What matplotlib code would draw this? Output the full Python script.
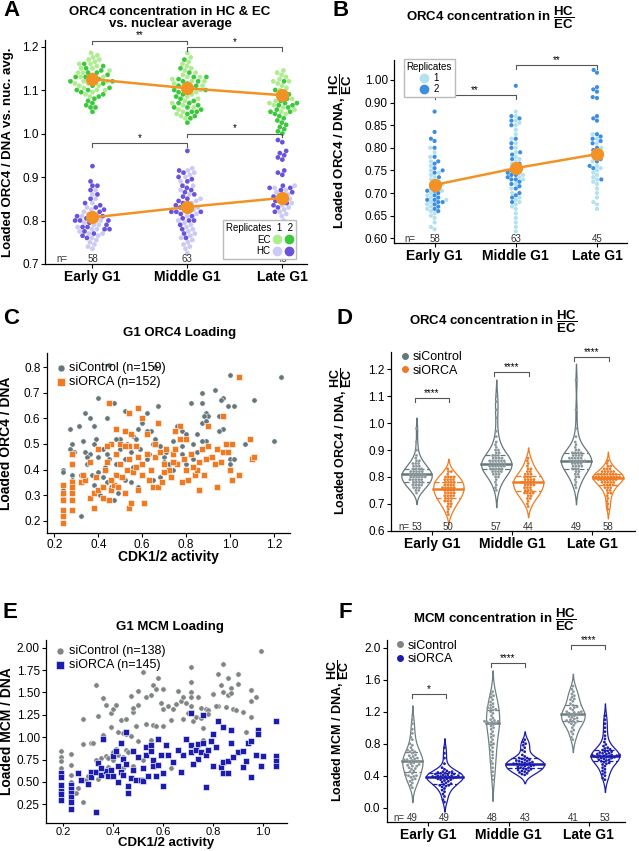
import warnings
import numpy as np
import pandas as pd
import matplotlib
matplotlib.use('Agg')
import matplotlib.pyplot as plt
from matplotlib.lines import Line2D
from matplotlib import mlab
import seaborn as sns

warnings.filterwarnings('ignore')

plt.rcParams['font.family'] = ['Liberation Sans', 'DejaVu Sans']
plt.rcParams['mathtext.fontset'] = 'custom'
plt.rcParams['mathtext.rm'] = 'Liberation Sans'
plt.rcParams['mathtext.bf'] = 'Liberation Sans:bold'
plt.rcParams['mathtext.it'] = 'Liberation Sans:italic'
plt.rcParams['axes.linewidth'] = 0.9

phases = ['Early G1', 'Middle G1', 'Late G1']

# ---- panel A: ORC4 in EC / HC vs nuclear average (replicate 1, replicate 2)
a_ec_r1 = [[1.185, 1.18, 1.175, 1.17, 1.17, 1.165, 1.16, 1.16, 1.155, 1.15, 1.15, 1.145, 1.14, 1.14, 1.135,
            1.13, 1.13, 1.125, 1.12, 1.12, 1.115, 1.115, 1.11, 1.11, 1.105, 1.10, 1.10, 1.095, 1.09, 1.085],
           [1.185, 1.175, 1.165, 1.16, 1.155, 1.15, 1.145, 1.14, 1.135, 1.13, 1.13, 1.125, 1.12, 1.12, 1.115,
            1.11, 1.105, 1.10, 1.10, 1.095, 1.09, 1.085, 1.08, 1.075, 1.07, 1.065, 1.06, 1.055, 1.05, 1.045,
            1.04, 1.035],
           [1.145, 1.14, 1.135, 1.13, 1.125, 1.12, 1.12, 1.115, 1.11, 1.105, 1.10, 1.095, 1.09, 1.085, 1.08,
            1.075, 1.07, 1.065, 1.06, 1.055, 1.05, 1.045]]
a_ec_r2 = [[1.16, 1.155, 1.15, 1.145, 1.14, 1.135, 1.13, 1.125, 1.12, 1.12, 1.115, 1.11, 1.105, 1.10, 1.10,
            1.095, 1.09, 1.085, 1.08, 1.075, 1.07, 1.065, 1.06, 1.06, 1.05, 1.13, 1.14, 1.12],
           [1.17, 1.15, 1.14, 1.13, 1.125, 1.12, 1.115, 1.11, 1.105, 1.10, 1.10, 1.095, 1.09, 1.085, 1.08,
            1.075, 1.07, 1.065, 1.06, 1.055, 1.05, 1.05, 1.045, 1.04, 1.035, 1.025, 1.12, 1.13, 1.06, 1.07, 1.11],
           [1.12, 1.10, 1.09, 1.08, 1.075, 1.07, 1.065, 1.06, 1.055, 1.05, 1.045, 1.04, 1.035, 1.03, 1.025,
            1.02, 1.015, 1.01, 1.005, 1.0, 1.065, 1.07, 1.05]]
a_hc_r1 = [[0.735, 0.74, 0.745, 0.75, 0.755, 0.76, 0.765, 0.77, 0.77, 0.775, 0.78, 0.78, 0.785, 0.79, 0.79,
            0.795, 0.80, 0.80, 0.805, 0.81, 0.81, 0.815, 0.82, 0.825, 0.83, 0.84, 0.85, 0.86, 0.87],
           [0.92, 0.915, 0.91, 0.905, 0.90, 0.89, 0.88, 0.87, 0.86, 0.85, 0.845, 0.84, 0.835, 0.83, 0.825,
            0.82, 0.815, 0.81, 0.80, 0.795, 0.79, 0.785, 0.78, 0.775, 0.77, 0.765, 0.76, 0.755, 0.75, 0.745,
            0.74, 0.735, 0.725],
           [0.88, 0.875, 0.87, 0.865, 0.86, 0.855, 0.85, 0.845, 0.84, 0.835, 0.83, 0.825, 0.82, 0.815, 0.81,
            0.80, 0.79, 0.785, 0.78, 0.775, 0.77, 0.765]]
a_hc_r2 = [[0.925, 0.89, 0.88, 0.88, 0.87, 0.86, 0.85, 0.84, 0.835, 0.83, 0.825, 0.82, 0.815, 0.81, 0.805,
            0.80, 0.80, 0.795, 0.79, 0.785, 0.785, 0.78, 0.78, 0.775, 0.77, 0.765, 0.76, 0.80, 0.81],
           [0.96, 0.915, 0.91, 0.90, 0.895, 0.89, 0.88, 0.875, 0.87, 0.865, 0.86, 0.855, 0.85, 0.845, 0.84,
            0.835, 0.83, 0.825, 0.82, 0.82, 0.82, 0.815, 0.81, 0.805, 0.80, 0.79, 0.78, 0.77, 0.76, 0.80],
           [0.985, 0.98, 0.96, 0.955, 0.95, 0.945, 0.94, 0.915, 0.91, 0.905, 0.88, 0.875, 0.875, 0.87, 0.865,
            0.86, 0.855, 0.85, 0.845, 0.84, 0.835, 0.83, 0.82]]
a_ec_mean = [1.125, 1.104, 1.088]
a_hc_mean = [0.807, 0.831, 0.852]
a_n = [58, 63, 45]

# ---- panel B: HC/EC ratio
b_r1 = [[0.62, 0.625, 0.635, 0.645, 0.65, 0.655, 0.66, 0.665, 0.67, 0.675, 0.68, 0.685, 0.69, 0.695, 0.70,
         0.705, 0.71, 0.715, 0.72, 0.72, 0.725, 0.73, 0.735, 0.74, 0.745, 0.75, 0.76, 0.77, 0.78, 0.79, 0.80],
        [0.88, 0.87, 0.86, 0.855, 0.85, 0.84, 0.83, 0.82, 0.81, 0.80, 0.79, 0.78, 0.775, 0.77, 0.765, 0.76,
         0.75, 0.745, 0.74, 0.735, 0.73, 0.72, 0.71, 0.70, 0.69, 0.685, 0.68, 0.675, 0.67, 0.665, 0.655, 0.645,
         0.635, 0.625, 0.615],
        [0.83, 0.82, 0.81, 0.80, 0.79, 0.78, 0.77, 0.76, 0.75, 0.74, 0.735, 0.73, 0.725, 0.72, 0.71, 0.70,
         0.69, 0.68, 0.675, 0.665, 0.745, 0.755]]
b_r2 = [[0.88, 0.835, 0.82, 0.815, 0.80, 0.78, 0.77, 0.765, 0.755, 0.75, 0.745, 0.735, 0.725, 0.715, 0.705,
         0.70, 0.695, 0.69, 0.685, 0.685, 0.68, 0.68, 0.675, 0.67, 0.665, 0.66, 0.705],
        [0.937, 0.87, 0.865, 0.86, 0.85, 0.82, 0.81, 0.80, 0.79, 0.785, 0.775, 0.765, 0.755, 0.75, 0.745,
         0.74, 0.735, 0.73, 0.725, 0.72, 0.715, 0.71, 0.70, 0.695, 0.69, 0.68, 0.73, 0.74],
        [0.972, 0.966, 0.934, 0.929, 0.924, 0.912, 0.91, 0.87, 0.865, 0.86, 0.83, 0.825, 0.82, 0.815, 0.80,
         0.795, 0.785, 0.775, 0.77, 0.76, 0.755, 0.73, 0.81]]
b_mean = [0.718, 0.755, 0.786]
b_n = [58, 63, 45]
b_tick_labels = ['0.60', '0.65', '0.70', '0.75', '0.80', '0.85', '0.90', '1.00']

# ---- panel C: ORC4 loading vs CDK activity
c_ctrl = [(0.45, 0.81), (0.66, 0.80), (1.00, 0.77), (1.23, 0.76), (0.40, 0.68), (0.47, 0.66), (0.34, 0.62),
          (0.52, 0.63), (0.36, 0.60), (0.44, 0.60), (0.31, 0.57), (0.38, 0.57), (0.27, 0.56), (0.62, 0.62),
          (0.67, 0.65), (0.87, 0.70), (0.93, 0.71), (0.87, 0.66), (0.82, 0.66), (0.97, 0.68), (0.96, 0.67),
          (0.99, 0.65), (1.02, 0.65), (1.11, 0.67), (0.89, 0.62), (0.90, 0.61), (0.88, 0.61), (0.95, 0.61),
          (0.87, 0.58), (0.89, 0.59), (0.97, 0.56), (0.76, 0.57), (0.78, 0.55), (0.80, 0.54), (0.85, 0.54),
          (0.89, 0.51), (0.87, 0.51), (0.83, 0.50), (1.07, 0.50), (1.20, 0.51), (1.00, 0.44), (1.02, 0.44),
          (1.00, 0.42), (0.60, 0.58), (0.58, 0.56), (0.64, 0.55), (0.62, 0.55), (0.56, 0.53), (0.50, 0.52),
          (0.48, 0.52), (0.46, 0.50), (0.39, 0.52), (0.38, 0.50), (0.33, 0.51), (0.28, 0.50), (0.29, 0.47),
          (0.27, 0.48), (0.34, 0.47), (0.36, 0.46), (0.42, 0.48), (0.44, 0.46), (0.40, 0.45), (0.45, 0.44),
          (0.48, 0.42), (0.52, 0.44), (0.55, 0.47), (0.59, 0.48), (0.63, 0.46), (0.66, 0.52), (0.68, 0.49),
          (0.70, 0.45), (0.70, 0.43), (0.72, 0.42), (0.75, 0.43), (0.80, 0.42), (0.78, 0.49), (0.74, 0.51),
          (0.24, 0.40), (0.24, 0.39), (0.28, 0.38), (0.28, 0.36), (0.32, 0.38), (0.35, 0.42), (0.37, 0.38),
          (0.40, 0.39), (0.42, 0.37), (0.44, 0.35), (0.46, 0.33), (0.49, 0.31), (0.50, 0.37), (0.52, 0.36),
          (0.55, 0.35), (0.58, 0.33), (0.65, 0.36), (0.68, 0.37), (0.24, 0.32), (0.24, 0.29), (0.28, 0.28),
          (0.32, 0.22), (0.38, 0.34), (0.41, 0.30), (0.47, 0.28), (0.53, 0.40), (0.56, 0.41), (0.60, 0.42),
          (0.64, 0.40), (0.35, 0.45), (0.50, 0.48), (0.53, 0.50), (0.57, 0.52), (0.65, 0.50), (0.71, 0.47),
          (0.78, 0.46), (0.85, 0.47), (0.91, 0.45), (0.95, 0.55), (0.83, 0.44), (0.74, 0.40), (0.62, 0.44),
          (0.43, 0.41)]
c_orca = [(0.45, 0.66), (0.58, 0.64), (1.04, 0.76), (0.54, 0.62), (0.48, 0.56), (0.60, 0.60), (0.67, 0.58),
          (0.97, 0.61), (0.90, 0.57), (0.77, 0.57), (0.52, 0.55), (0.55, 0.54), (0.62, 0.54), (0.80, 0.52),
          (0.75, 0.55), (0.46, 0.50), (0.44, 0.49), (0.50, 0.50), (0.54, 0.49), (0.57, 0.49), (0.28, 0.46),
          (0.28, 0.42), (0.24, 0.34), (0.24, 0.31), (0.24, 0.28), (0.24, 0.24), (0.24, 0.22), (0.24, 0.19),
          (0.28, 0.35), (0.28, 0.33), (0.28, 0.31), (0.28, 0.28), (0.28, 0.24), (0.32, 0.35), (0.34, 0.36),
          (0.36, 0.29), (0.38, 0.25), (0.38, 0.31), (0.39, 0.37), (0.40, 0.32), (0.42, 0.33), (0.42, 0.29),
          (0.44, 0.43), (0.45, 0.28), (0.46, 0.32), (0.47, 0.34), (0.48, 0.38), (0.48, 0.46), (0.50, 0.42),
          (0.51, 0.37), (0.52, 0.31), (0.53, 0.40), (0.54, 0.25), (0.54, 0.44), (0.55, 0.27), (0.56, 0.39),
          (0.58, 0.32), (0.58, 0.45), (0.60, 0.42), (0.61, 0.27), (0.62, 0.46), (0.64, 0.40), (0.65, 0.33),
          (0.66, 0.45), (0.67, 0.33), (0.68, 0.47), (0.69, 0.35), (0.70, 0.42), (0.71, 0.48), (0.72, 0.40),
          (0.73, 0.37), (0.74, 0.46), (0.75, 0.48), (0.76, 0.42), (0.78, 0.35), (0.79, 0.44), (0.80, 0.40),
          (0.81, 0.36), (0.82, 0.46), (0.84, 0.38), (0.85, 0.40), (0.86, 0.32), (0.86, 0.43), (0.87, 0.48),
          (0.88, 0.38), (0.89, 0.44), (0.90, 0.49), (0.92, 0.45), (0.93, 0.42), (0.94, 0.33), (0.94, 0.48),
          (0.96, 0.43), (0.97, 0.47), (0.98, 0.50), (0.99, 0.47), (1.00, 0.40), (1.01, 0.36), (1.01, 0.50),
          (1.04, 0.38), (1.09, 0.52), (1.10, 0.44), (1.11, 0.45), (0.36, 0.43), (0.40, 0.48), (0.52, 0.49),
          (0.60, 0.38), (0.63, 0.36), (0.66, 0.50), (0.70, 0.39), (0.77, 0.52), (0.83, 0.41), (0.57, 0.41),
          (0.49, 0.33), (0.43, 0.40), (0.33, 0.38), (0.46, 0.36), (0.74, 0.43)]

# ---- panel D: ORC4 HC/EC, siControl vs siORCA
d_ctrl = [[0.98, 0.93, 0.90, 0.88, 0.87, 0.86, 0.85, 0.85, 0.84, 0.84, 0.84, 0.83, 0.83, 0.83, 0.82, 0.82,
           0.82, 0.82, 0.81, 0.81, 0.81, 0.81, 0.81, 0.80, 0.80, 0.80, 0.80, 0.80, 0.79, 0.79, 0.79, 0.79,
           0.78, 0.78, 0.78, 0.78, 0.77, 0.77, 0.77, 0.76, 0.76, 0.76, 0.75, 0.75, 0.74, 0.83, 0.82, 0.80,
           0.79, 0.85, 0.86, 0.81, 0.77],
          [1.10, 1.08, 1.05, 1.02, 0.97, 0.95, 0.93, 0.91, 0.90, 0.89, 0.88, 0.88, 0.87, 0.87, 0.87, 0.86,
           0.86, 0.86, 0.86, 0.85, 0.85, 0.85, 0.85, 0.85, 0.84, 0.84, 0.84, 0.84, 0.83, 0.83, 0.83, 0.83,
           0.82, 0.82, 0.82, 0.82, 0.81, 0.81, 0.80, 0.80, 0.79, 0.78, 0.77, 0.76, 0.75, 0.86, 0.85, 0.84,
           0.87, 0.88, 0.83, 0.81, 0.89, 0.86, 0.84, 0.90, 0.92],
          [1.16, 1.05, 0.98, 0.95, 0.93, 0.92, 0.91, 0.90, 0.89, 0.89, 0.89, 0.88, 0.88, 0.88, 0.87, 0.87,
           0.87, 0.87, 0.86, 0.86, 0.86, 0.86, 0.86, 0.85, 0.85, 0.85, 0.84, 0.84, 0.84, 0.83, 0.83, 0.83,
           0.82, 0.82, 0.81, 0.81, 0.80, 0.80, 0.79, 0.78, 0.77, 0.76, 0.87, 0.88, 0.86, 0.85, 0.90, 0.84, 0.89]]
d_orca = [[0.83, 0.82, 0.81, 0.80, 0.80, 0.80, 0.79, 0.79, 0.79, 0.78, 0.78, 0.78, 0.77, 0.77, 0.77, 0.76,
           0.76, 0.76, 0.76, 0.75, 0.75, 0.75, 0.75, 0.74, 0.74, 0.74, 0.73, 0.73, 0.73, 0.72, 0.72, 0.72,
           0.71, 0.71, 0.70, 0.70, 0.69, 0.69, 0.68, 0.67, 0.66, 0.78, 0.77, 0.76, 0.74, 0.73, 0.79, 0.80,
           0.71, 0.82],
          [0.87, 0.86, 0.85, 0.84, 0.83, 0.82, 0.82, 0.81, 0.81, 0.80, 0.80, 0.79, 0.79, 0.79, 0.78, 0.78,
           0.78, 0.78, 0.77, 0.77, 0.77, 0.76, 0.76, 0.75, 0.75, 0.75, 0.74, 0.74, 0.74, 0.73, 0.73, 0.72,
           0.72, 0.71, 0.70, 0.80, 0.81, 0.78, 0.76, 0.83, 0.77, 0.79, 0.74, 0.69],
          [0.86, 0.85, 0.84, 0.83, 0.83, 0.82, 0.82, 0.82, 0.82, 0.81, 0.81, 0.81, 0.81, 0.81, 0.80, 0.80,
           0.80, 0.80, 0.80, 0.80, 0.80, 0.79, 0.79, 0.79, 0.79, 0.79, 0.78, 0.78, 0.78, 0.78, 0.77, 0.77,
           0.77, 0.76, 0.76, 0.75, 0.75, 0.74, 0.74, 0.73, 0.72, 0.71, 0.70, 0.69, 0.68, 0.81, 0.80, 0.79,
           0.82, 0.78, 0.80, 0.81, 0.83, 0.79, 0.77, 0.80, 0.84, 0.76]]
d_n_ctrl = [53, 57, 49]
d_n_orca = [50, 44, 58]

# ---- panel E: MCM loading vs CDK activity
e_ctrl = [(0.19, 0.84), (0.19, 0.78), (0.19, 0.73), (0.19, 0.65), (0.19, 0.58), (0.23, 0.81), (0.23, 0.69),
          (0.23, 0.58), (0.23, 0.50), (0.26, 0.43), (0.25, 0.38), (0.28, 0.27), (0.29, 0.52), (0.28, 0.92),
          (0.28, 1.20), (0.31, 0.93), (0.32, 0.93), (0.33, 1.58), (0.34, 1.24), (0.36, 1.44), (0.37, 1.36),
          (0.39, 1.27), (0.40, 1.31), (0.41, 1.36), (0.43, 1.19), (0.44, 1.05), (0.45, 1.04), (0.47, 1.46),
          (0.48, 1.28), (0.48, 1.33), (0.49, 1.12), (0.50, 1.36), (0.50, 1.52), (0.52, 1.73), (0.53, 1.45),
          (0.53, 1.15), (0.55, 1.47), (0.56, 1.58), (0.57, 1.54), (0.58, 1.66), (0.59, 1.38), (0.60, 1.54),
          (0.60, 1.31), (0.60, 1.13), (0.62, 1.35), (0.56, 1.14), (0.36, 1.02), (0.35, 0.77), (0.37, 0.79),
          (0.38, 0.77), (0.40, 0.83), (0.41, 0.87), (0.42, 0.80), (0.44, 0.78), (0.45, 0.86), (0.46, 0.83),
          (0.34, 0.53), (0.36, 0.59), (0.33, 0.75), (0.40, 0.74), (0.30, 0.56), (0.52, 0.74), (0.50, 0.96),
          (0.47, 1.01), (0.63, 0.65), (0.67, 1.40), (0.68, 1.45), (0.69, 1.38), (0.70, 1.27), (0.71, 1.78),
          (0.71, 1.62), (0.71, 1.51), (0.71, 1.45), (0.71, 1.35), (0.72, 1.18), (0.73, 1.23), (0.74, 1.45),
          (0.75, 1.33), (0.75, 1.21), (0.76, 1.10), (0.77, 1.32), (0.78, 1.30), (0.78, 1.26), (0.68, 1.20),
          (0.80, 1.48), (0.82, 1.71), (0.82, 1.35), (0.83, 1.58), (0.84, 1.82), (0.84, 1.51), (0.85, 1.34),
          (0.86, 1.66), (0.86, 1.47), (0.87, 1.55), (0.87, 1.49), (0.88, 1.32), (0.89, 1.30), (0.90, 1.71),
          (0.90, 1.60), (0.92, 1.28), (0.93, 1.06), (0.95, 1.53), (0.95, 1.40), (0.95, 1.22), (0.97, 1.45),
          (0.99, 1.96), (0.66, 1.52), (0.64, 1.32), (0.57, 1.12), (0.45, 1.20), (0.39, 1.11), (0.42, 1.06),
          (0.55, 0.97), (0.76, 0.97), (0.81, 1.35), (0.48, 0.68), (0.44, 0.65), (0.38, 0.67), (0.63, 1.19),
          (0.65, 1.37)]
e_orca = [(0.19, 0.60), (0.19, 0.55), (0.19, 0.47), (0.19, 0.40), (0.19, 0.36), (0.19, 0.30), (0.23, 0.47),
          (0.23, 0.42), (0.23, 0.38), (0.23, 0.33), (0.23, 0.27), (0.23, 0.20), (0.26, 0.60), (0.31, 0.61),
          (0.31, 0.55), (0.33, 0.61), (0.33, 0.16), (0.34, 0.71), (0.35, 0.58), (0.36, 0.98), (0.37, 0.62),
          (0.38, 0.57), (0.39, 0.63), (0.40, 0.79), (0.40, 0.57), (0.41, 0.85), (0.42, 0.68), (0.43, 0.61),
          (0.43, 0.94), (0.44, 0.76), (0.44, 0.58), (0.45, 0.70), (0.45, 1.06), (0.46, 0.45), (0.46, 0.38),
          (0.47, 0.54), (0.48, 0.63), (0.49, 0.52), (0.51, 0.52), (0.52, 0.51), (0.53, 0.80), (0.53, 0.89),
          (0.54, 0.57), (0.55, 0.91), (0.55, 0.84), (0.56, 0.75), (0.56, 0.68), (0.57, 0.57), (0.58, 0.98),
          (0.59, 0.80), (0.60, 0.60), (0.60, 0.45), (0.61, 0.91), (0.67, 0.61), (0.68, 0.80), (0.69, 0.98),
          (0.71, 1.27), (0.71, 0.91), (0.71, 0.83), (0.73, 0.86), (0.74, 0.76), (0.74, 0.92), (0.75, 0.83),
          (0.76, 0.93), (0.76, 1.25), (0.77, 0.44), (0.77, 0.80), (0.79, 0.96), (0.80, 1.03), (0.80, 0.68),
          (0.81, 0.89), (0.82, 1.18), (0.83, 0.67), (0.84, 0.72), (0.84, 0.60), (0.84, 1.11), (0.86, 0.60),
          (0.86, 0.73), (0.87, 0.93), (0.87, 1.08), (0.90, 0.83), (0.92, 0.67), (0.92, 0.85), (0.93, 0.73),
          (0.94, 0.93), (0.95, 0.96), (0.95, 0.55), (0.97, 0.80), (0.98, 1.08), (0.98, 1.04), (0.99, 0.68),
          (1.00, 0.79), (1.05, 1.18), (1.05, 0.79), (1.05, 0.73), (1.05, 0.68), (0.50, 0.78), (0.48, 0.85),
          (0.35, 0.66), (0.64, 0.72), (0.66, 0.86), (0.58, 0.69), (0.62, 0.80), (0.52, 0.66), (0.72, 0.70),
          (0.78, 0.86), (0.88, 0.78), (0.42, 0.50), (0.30, 0.48), (0.27, 0.52)]

# ---- panel F: MCM HC/EC, siControl vs siORCA
f_ctrl = [[1.10, 1.05, 0.98, 0.93, 0.88, 0.85, 0.80, 0.78, 0.75, 0.72, 0.72, 0.70, 0.68, 0.66, 0.64, 0.62,
           0.61, 0.60, 0.60, 0.59, 0.58, 0.57, 0.56, 0.55, 0.54, 0.53, 0.52, 0.50, 0.49, 0.48, 0.46, 0.45,
           0.43, 0.41, 0.40, 0.40, 0.39, 0.38, 0.36, 0.35, 0.33, 0.31, 0.28, 0.25, 0.65, 0.62, 0.58, 0.52, 0.70],
          [1.45, 1.42, 1.40, 1.38, 1.35, 1.32, 1.30, 1.28, 1.26, 1.25, 1.24, 1.23, 1.22, 1.20, 1.18, 1.15,
           1.12, 1.10, 1.09, 1.08, 1.08, 1.07, 1.07, 1.06, 1.05, 1.04, 1.02, 1.00, 0.98, 0.95, 0.92, 0.90,
           0.88, 0.85, 0.82, 0.80, 0.78, 0.75, 0.72, 0.70, 0.66, 0.62, 0.58, 0.55, 0.50, 0.45, 0.40, 0.35],
          [1.52, 1.48, 1.45, 1.42, 1.40, 1.38, 1.36, 1.35, 1.33, 1.30, 1.28, 1.26, 1.24, 1.22, 1.20, 1.20,
           1.19, 1.19, 1.18, 1.17, 1.16, 1.15, 1.13, 1.12, 1.11, 1.10, 1.09, 1.08, 1.08, 1.07, 1.06, 1.05,
           1.03, 1.00, 0.97, 0.95, 0.92, 0.88, 0.85, 1.25, 1.14]]
f_orca = [[0.75, 0.68, 0.62, 0.55, 0.50, 0.48, 0.46, 0.45, 0.45, 0.44, 0.43, 0.43, 0.42, 0.42, 0.41, 0.41,
           0.40, 0.40, 0.39, 0.39, 0.38, 0.38, 0.38, 0.37, 0.37, 0.36, 0.36, 0.35, 0.35, 0.34, 0.33, 0.32,
           0.31, 0.30, 0.29, 0.28, 0.28, 0.27, 0.26, 0.24, 0.22, 0.20, 0.17, 0.14, 0.10, 0.07, 0.40, 0.44, 0.39],
          [0.85, 0.82, 0.80, 0.78, 0.75, 0.72, 0.70, 0.66, 0.64, 0.62, 0.62, 0.61, 0.60, 0.60, 0.59, 0.58,
           0.57, 0.56, 0.56, 0.55, 0.55, 0.54, 0.54, 0.53, 0.53, 0.52, 0.51, 0.50, 0.50, 0.49, 0.48, 0.48,
           0.47, 0.46, 0.46, 0.45, 0.44, 0.43, 0.42, 0.41, 0.58, 0.52, 0.57],
          [1.15, 1.10, 1.05, 1.00, 0.95, 0.90, 0.86, 0.82, 0.79, 0.77, 0.75, 0.74, 0.73, 0.72, 0.71, 0.70,
           0.69, 0.68, 0.67, 0.67, 0.66, 0.66, 0.65, 0.65, 0.65, 0.64, 0.64, 0.63, 0.63, 0.62, 0.62, 0.61,
           0.60, 0.60, 0.59, 0.58, 0.57, 0.56, 0.55, 0.54, 0.52, 0.50, 0.48, 0.46, 0.44, 0.42, 0.40, 0.37,
           0.35, 0.66, 0.68, 0.63, 0.70]]
f_n_ctrl = [49, 48, 41]
f_n_orca = [49, 43, 53]

ORANGE = '#f39224'
SLATE = '#66777b'
GRAY = '#808485'
C_ORANGE = '#f07a22'
NAVY = '#1c1cae'
W, H = 639, 851

fig = plt.figure(figsize=(6.39, 8.51), dpi=100)


def add_ax(l, t, r, b):
    ax = fig.add_axes([l / W, 1 - b / H, (r - l) / W, (b - t) / H])
    ax.spines['top'].set_visible(False)
    ax.spines['right'].set_visible(False)
    ax.tick_params(labelsize=8.5, length=3, width=0.8, pad=1.5)
    return ax


def fig_text(x, y, s, **kw):
    fig.text(x / W, 1 - y / H, s, **kw)


def bracket(ax, x1, x2, y, h, txt):
    ax.plot([x1, x1, x2, x2], [y - h, y, y, y - h], color='#555555', lw=0.8, clip_on=False)
    ax.text((x1 + x2) / 2, y, txt, ha='center', va='bottom', fontsize=7, clip_on=False)


def n_row(ax, xs, ns, nx):
    tr = ax.get_xaxis_transform()
    ax.text(nx, 0.022, 'n=', transform=ax.transAxes, fontsize=7, va='center', color='#333333')
    for x, n in zip(xs, ns):
        ax.text(x, 0.022, str(n), transform=tr, fontsize=7, ha='center', va='center', color='#333333')


def cat_axis(ax, xlim):
    ax.set_xlim(*xlim)
    ax.set_xticks(range(3))
    ax.set_xticklabels(phases, fontsize=10, fontweight='bold')
    ax.set_xlabel('')


def rep_frame(groups1, groups2):
    rows = []
    for ph, g1, g2 in zip(phases, groups1, groups2):
        rows += [(ph, '1', v) for v in g1] + [(ph, '2', v) for v in g2]
    return pd.DataFrame(rows, columns=['phase', 'rep', 'val'])


def cond_frame(ctrl, orca):
    rows = []
    for ph, g1, g2 in zip(phases, ctrl, orca):
        rows += [(ph, 'siControl', v) for v in g1] + [(ph, 'siORCA', v) for v in g2]
    return pd.DataFrame(rows, columns=['phase', 'cond', 'val'])


def kde_curve(vals):
    vals = np.asarray(vals, float)
    kde = mlab.GaussianKDE(vals, 'scott')
    bw = float(np.sqrt(kde.covariance).item())
    ys = np.linspace(vals.min() - 2 * bw, vals.max() + 2 * bw, 250)
    return ys, kde.evaluate(ys)


def violins(ax, ctrl, orca, colors, half, scale):
    curves = [[kde_curve(v) for v in ctrl], [kde_curve(v) for v in orca]]
    common = max(d.max() for grp in curves for _, d in grp)
    for k, (grp, data) in enumerate(zip(curves, (ctrl, orca))):
        off = -0.2 if k == 0 else 0.2
        for i, ((ys, d), vals) in enumerate(zip(grp, data)):
            norm = d.max() if scale == 'width' else common
            w = d / norm * half
            pos = i + off
            ax.fill_betweenx(ys, pos - w, pos + w, facecolor='white', edgecolor=colors[k], lw=0.9, zorder=0.5)
            q1, med, q3 = np.percentile(vals, [25, 50, 75])
            for q, ls, lw in ((q1, (0, (4, 2)), 0.9), (med, '-', 1.8), (q3, (0, (4, 2)), 0.9)):
                hw = np.interp(q, ys, w)
                ax.plot([pos - hw, pos + hw], [q, q], color=colors[k], ls=ls, lw=lw, zorder=1.5)


# ================= A
axA = add_ax(45, 40, 307, 264)
for g1, g2, pal in ((a_ec_r1, a_ec_r2, {'1': '#aeec90', '2': '#3cc83c'}),
                    (a_hc_r1, a_hc_r2, {'1': '#cacaf4', '2': '#6a52dc'})):
    sns.swarmplot(data=rep_frame(g1, g2), x='phase', y='val', hue='rep', order=phases, hue_order=['1', '2'],
                  palette=pal, size=3.4, linewidth=0, ax=axA, legend=False, zorder=2)
axA.plot(range(3), a_ec_mean, color=ORANGE, lw=1.8, marker='o', ms=8.5, zorder=5)
axA.plot(range(3), a_hc_mean, color=ORANGE, lw=1.8, marker='o', ms=8.5, zorder=5)
cat_axis(axA, (-0.5, 2.26))
axA.set_ylim(0.7, 1.215)
axA.set_yticks(np.arange(0.7, 1.21, 0.1))
axA.yaxis.set_major_formatter(matplotlib.ticker.FormatStrFormatter('%.1f'))
axA.set_ylabel('Loaded ORC4 / DNA vs. nuc. avg.', fontsize=9.5, fontweight='bold')
axA.yaxis.set_label_coords(-0.12, 0.5)
bracket(axA, 0, 1, 1.2137, 0.009, '**')
bracket(axA, 1, 2, 1.198, 0.009, '*')
bracket(axA, 0, 1, 0.979, 0.009, '*')
bracket(axA, 1, 2, 1.0, 0.009, '*')
n_row(axA, range(3), a_n, 0.045)
hA = [Line2D([], [], ls='', marker='o', ms=6, color=c) for c in ('#aeec90', '#cacaf4', '#3cc83c', '#6a52dc')]
legA = axA.legend(hA, ['EC', 'HC', '', ''], ncol=2, markerfirst=False, title='Replicates  1  2',
                  loc='lower right', bbox_to_anchor=(0.975, 0.0), fontsize=7, title_fontsize=7,
                  handletextpad=0.3, columnspacing=0.1, handlelength=0.8, labelspacing=0.15,
                  borderpad=0.3, fancybox=False, edgecolor='#bbbbbb', framealpha=1)
legA._legend_box.align = 'right'
fig_text(170, 18, 'ORC4 concentration in HC & EC\nvs. nuclear average', ha='center', va='center',
         fontsize=9.5, fontweight='bold', linespacing=1.05)
fig_text(3, 11, 'A', fontsize=16, fontweight='bold', va='center')

# ================= B
axB = add_ax(394, 60, 627, 243)
sns.swarmplot(data=rep_frame(b_r1, b_r2), x='phase', y='val', hue='rep', order=phases, hue_order=['1', '2'],
              palette={'1': '#b2e2f0', '2': '#3c8ee0'}, size=3.0, linewidth=0, ax=axB, legend=False, zorder=2)
axB.plot(range(3), b_mean, color=ORANGE, lw=1.8, marker='o', ms=8.5, zorder=5)
cat_axis(axB, (-0.5, 2.37))
axB.set_ylim(0.5896, 0.994)
axB.set_yticks(np.linspace(0.60, 0.95, 8))
axB.set_yticklabels(b_tick_labels)
axB.set_ylabel(r'Loaded ORC4 / DNA, $\dfrac{\mathbf{HC}}{\mathbf{EC}}$', fontsize=9.5, fontweight='bold')
axB.yaxis.set_label_coords(-0.17, 0.5)
bracket(axB, 0, 1, 0.917, 0.009, '**')
bracket(axB, 1, 2, 0.983, 0.009, '**')
n_row(axB, range(3), b_n, 0.045)
hB = [Line2D([], [], ls='', marker='o', ms=6, color=c) for c in ('#b2e2f0', '#3c8ee0')]
axB.legend(hB, ['1', '2'], title='Replicates', loc='upper left', bbox_to_anchor=(0.02, 1.03), fontsize=7,
           title_fontsize=7, handletextpad=0.6, handlelength=0.8, labelspacing=0.1, borderpad=0.3,
           fancybox=False, edgecolor='#bbbbbb', framealpha=1)
fig_text(490, 18, r'ORC4 concentration in $\dfrac{\mathbf{HC}}{\mathbf{EC}}$', ha='center', va='center',
         fontsize=9.5, fontweight='bold')
fig_text(333, 11, 'B', fontsize=16, fontweight='bold', va='center')

# ================= C
axC = add_ax(46.7, 353.3, 290, 533)
cx, cy = zip(*c_ctrl)
ox, oy = zip(*c_orca)
axC.scatter(cx, cy, s=15, marker='o', color=SLATE, edgecolors='white', linewidths=0.4,
            label='siControl (n=159)', zorder=2)
axC.scatter(ox, oy, s=20, marker='s', color=C_ORANGE, edgecolors='white', linewidths=0.4,
            label='siORCA (n=152)', zorder=3)
axC.set_xlim(0.165, 1.273)
axC.set_ylim(0.152, 0.854)
axC.set_xticks(np.arange(0.2, 1.21, 0.2))
axC.set_yticks(np.arange(0.2, 0.81, 0.1))
axC.xaxis.set_major_formatter(matplotlib.ticker.FormatStrFormatter('%.1f'))
axC.yaxis.set_major_formatter(matplotlib.ticker.FormatStrFormatter('%.1f'))
axC.set_xlabel('CDK1/2 activity', fontsize=10, fontweight='bold')
axC.xaxis.set_label_coords(0.5, -0.095)
axC.set_ylabel('Loaded ORC4 / DNA', fontsize=10, fontweight='bold')
axC.yaxis.set_label_coords(-0.14, 0.5)
axC.legend(loc='upper left', bbox_to_anchor=(-0.01, 1.0), frameon=False, fontsize=9, handletextpad=0.1,
           borderpad=0.2, labelspacing=0.15, markerscale=1.3, handlelength=1.2)
fig_text(180, 333, 'G1 ORC4 Loading', ha='center', va='center', fontsize=9.5, fontweight='bold')
fig_text(3, 318, 'C', fontsize=16, fontweight='bold', va='center')

# ================= D
axD = add_ax(391, 351.7, 635, 530.7)
violins(axD, d_ctrl, d_orca, (SLATE, C_ORANGE), 0.19, 'width')
sns.swarmplot(data=cond_frame(d_ctrl, d_orca), x='phase', y='val', hue='cond', order=phases,
              hue_order=['siControl', 'siORCA'], palette={'siControl': '#8a979a', 'siORCA': C_ORANGE},
              dodge=True, size=2.0, linewidth=0, ax=axD, legend=False, zorder=3)
cat_axis(axD, (-0.52, 2.54))
axD.set_ylim(0.6, 1.266)
axD.set_yticks(np.arange(0.6, 1.21, 0.1))
axD.yaxis.set_major_formatter(matplotlib.ticker.FormatStrFormatter('%.1f'))
axD.set_ylabel(r'Loaded ORC4 / DNA, $\dfrac{\mathbf{HC}}{\mathbf{EC}}$', fontsize=9, fontweight='bold')
axD.yaxis.set_label_coords(-0.15, 0.5)
bracket(axD, -0.22, 0.21, 1.095, 0.015, '****')
bracket(axD, 0.77, 1.21, 1.19, 0.015, '****')
bracket(axD, 1.77, 2.21, 1.247, 0.015, '****')
n_row(axD, [-0.2, 0.2, 0.8, 1.2, 1.8, 2.2], [d_n_ctrl[0], d_n_orca[0], d_n_ctrl[1], d_n_orca[1],
                                              d_n_ctrl[2], d_n_orca[2]], 0.03)
hD = [Line2D([], [], ls='', marker='o', ms=4, color=c) for c in (SLATE, C_ORANGE)]
axD.legend(hD, ['siControl', 'siORCA'], loc='upper left', bbox_to_anchor=(0.0, 1.05), frameon=False,
           fontsize=9, handletextpad=0.2, handlelength=0.8, labelspacing=0.1, borderpad=0.2)
fig_text(493, 322, r'ORC4 concentration in $\dfrac{\mathbf{HC}}{\mathbf{EC}}$', ha='center', va='center',
         fontsize=9.5, fontweight='bold')
fig_text(337, 318, 'D', fontsize=16, fontweight='bold', va='center')

# ================= E
axE = add_ax(46, 640, 286.7, 822.7)
ex, ey = zip(*e_ctrl)
nx, ny = zip(*e_orca)
axE.scatter(ex, ey, s=15, marker='o', color=GRAY, edgecolors='white', linewidths=0.4,
            label='siControl (n=138)', zorder=2)
axE.scatter(nx, ny, s=20, marker='s', color=NAVY, edgecolors='white', linewidths=0.4,
            label='siORCA (n=145)', zorder=3)
axE.set_xlim(0.131, 1.094)
axE.set_ylim(0.043, 2.087)
axE.set_xticks(np.arange(0.2, 1.01, 0.2))
axE.set_yticks(np.arange(0.25, 2.01, 0.25))
axE.xaxis.set_major_formatter(matplotlib.ticker.FormatStrFormatter('%.1f'))
axE.yaxis.set_major_formatter(matplotlib.ticker.FormatStrFormatter('%.2f'))
axE.tick_params(axis='x', pad=0.5, labelsize=8, length=2.5)
axE.set_xlabel('CDK1/2 activity', fontsize=9.5, fontweight='bold')
axE.xaxis.set_label_coords(0.5, -0.112)
axE.xaxis.label.set_verticalalignment('center')
axE.set_ylabel('Loaded MCM / DNA', fontsize=10, fontweight='bold')
axE.yaxis.set_label_coords(-0.135, 0.5)
axE.legend(loc='upper left', bbox_to_anchor=(-0.01, 1.02), frameon=False, fontsize=9, handletextpad=0.1,
           borderpad=0.2, labelspacing=0.15, markerscale=1.3, handlelength=1.2)
fig_text(170, 627, 'G1 MCM Loading', ha='center', va='center', fontsize=9.5, fontweight='bold')
fig_text(3, 613, 'E', fontsize=16, fontweight='bold', va='center')

# ================= F
axF = add_ax(386.7, 640, 625, 821.7)
violins(axF, f_ctrl, f_orca, ('#6f7f82', NAVY), 0.24, 'area')
sns.swarmplot(data=cond_frame(f_ctrl, f_orca), x='phase', y='val', hue='cond', order=phases,
              hue_order=['siControl', 'siORCA'], palette={'siControl': '#8a979a', 'siORCA': NAVY},
              dodge=True, size=2.0, linewidth=0, ax=axF, legend=False, zorder=3)
cat_axis(axF, (-0.52, 2.45))
axF.set_ylim(-0.175, 2.096)
axF.set_yticks(np.arange(0.0, 2.01, 0.4))
axF.yaxis.set_major_formatter(matplotlib.ticker.FormatStrFormatter('%.1f'))
axF.set_ylabel(r'Loaded MCM / DNA, $\dfrac{\mathbf{HC}}{\mathbf{EC}}$', fontsize=9, fontweight='bold')
axF.yaxis.set_label_coords(-0.15, 0.5)
bracket(axF, -0.21, 0.22, 1.42, 0.05, '*')
bracket(axF, 0.78, 1.2, 1.805, 0.05, '****')
bracket(axF, 1.78, 2.2, 2.03, 0.05, '****')
n_row(axF, [-0.2, 0.2, 0.8, 1.2, 1.8, 2.2], [f_n_ctrl[0], f_n_orca[0], f_n_ctrl[1], f_n_orca[1],
                                              f_n_ctrl[2], f_n_orca[2]], 0.03)
hF = [Line2D([], [], ls='', marker='o', ms=4, color=c) for c in ('#808485', NAVY)]
axF.legend(hF, ['siControl', 'siORCA'], loc='upper left', bbox_to_anchor=(0.0, 1.05), frameon=False,
           fontsize=9, handletextpad=0.2, handlelength=0.8, labelspacing=0.1, borderpad=0.2)
fig_text(495, 620, r'MCM concentration in $\dfrac{\mathbf{HC}}{\mathbf{EC}}$', ha='center', va='center',
         fontsize=9.5, fontweight='bold')
fig_text(338, 613, 'F', fontsize=16, fontweight='bold', va='center')

fig.savefig('out.png', dpi=100)
